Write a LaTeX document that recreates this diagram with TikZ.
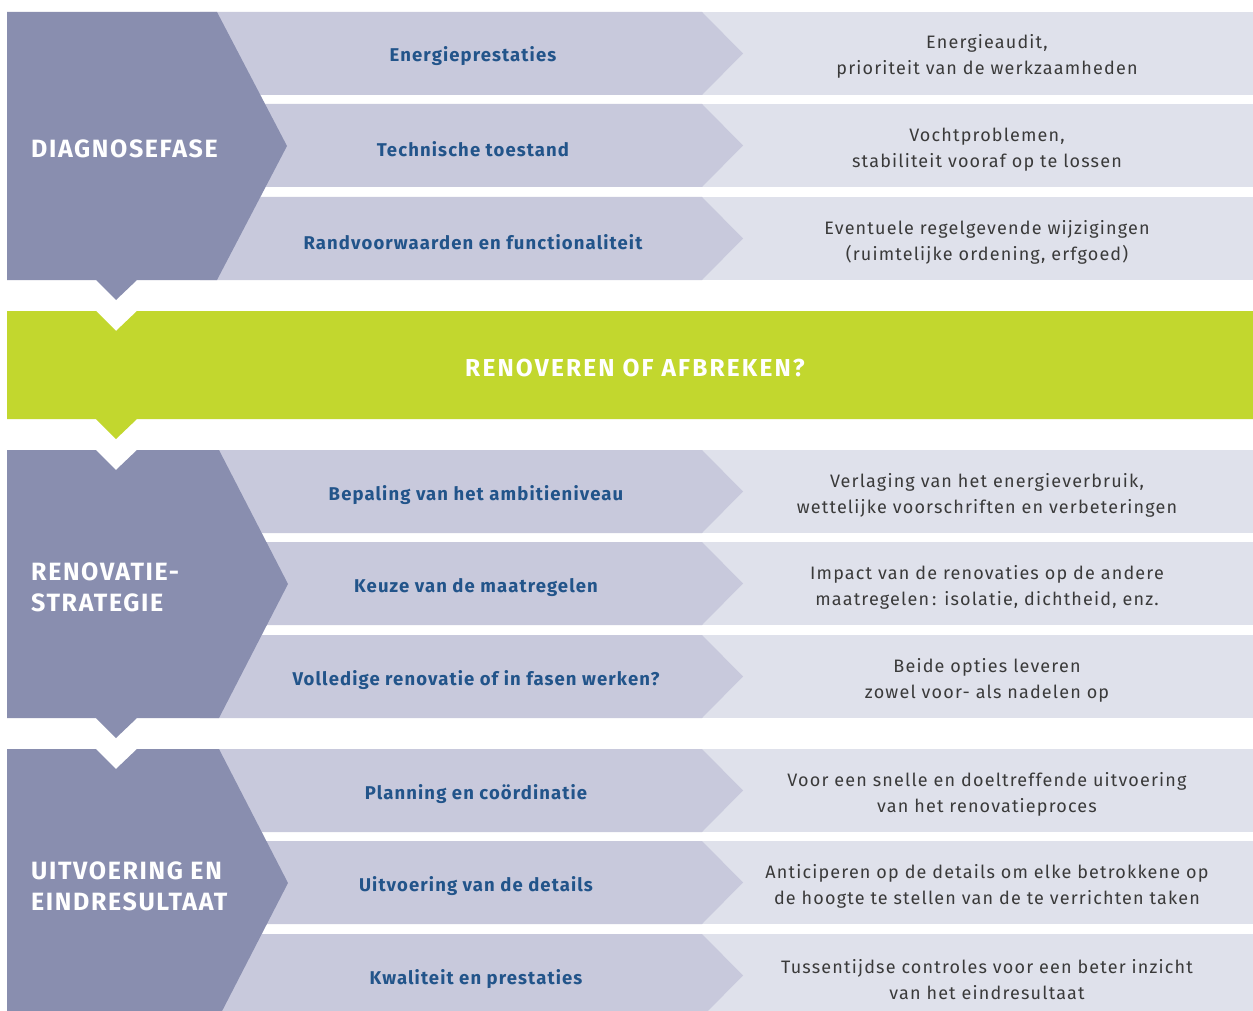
\documentclass[tikz,border=0pt]{standalone}
\usepackage{fontspec}
\setmainfont{Fira Sans}
\usetikzlibrary{positioning}

\definecolor{phasecol}{HTML}{898EAF}
\definecolor{stepcol}{HTML}{C8C9DC}
\definecolor{notecol}{HTML}{DFE1EB}
\definecolor{greencol}{HTML}{C2D72E}
\definecolor{bluetext}{HTML}{22548A}
\definecolor{graytext}{HTML}{3A3A3A}

\tikzstyle{phase} = [text=white,
  font=\fontsize{25}{31}\selectfont\bfseries\addfontfeatures{LetterSpace=6.5},
  anchor=west, align=left, inner sep=0pt, yshift=-1pt]
\tikzstyle{stepname} = [text=bluetext,
  font=\fontsize{18.5}{24}\selectfont\bfseries\addfontfeatures{LetterSpace=6},
  inner sep=0pt, yshift=-1.5pt]
\tikzstyle{stepnote} = [text=graytext,
  font=\fontsize{18}{26}\selectfont\addfontfeatures{LetterSpace=6.5},
  align=center, inner sep=0pt, yshift=-1.5pt]
\tikzstyle{question} = [text=white,
  font=\fontsize{24.5}{28}\selectfont\bfseries\addfontfeatures{LetterSpace=8.8},
  inner sep=0pt, yshift=-1pt]

\begin{document}
\begin{tikzpicture}[x=1pt,y=-1pt]
        \useasboundingbox (0,0) rectangle (1253,1011);
        \fill[white] (0,0) rectangle (1253,1011);

        % rows: light part and chevron part
        \foreach \t in {12,104,197,450,542,635,749,841,934} {
          \fill[notecol] (702,\t) rectangle (1253,\t+83);
          \fill[stepcol] (200,\t) -- (702,\t) -- (743,\t+41.5) -- (702,\t+83)
            -- (200,\t+83) -- cycle;
        }

        % phase panels
        \fill[phasecol] (7,12) -- (217,12) -- (287,146) -- (217,280) -- (137,280)
          -- (116,300) -- (96,280) -- (7,280) -- cycle;
        \fill[phasecol] (7,450) -- (96,450) -- (116,470) -- (137,450) -- (219,450)
          -- (288,584) -- (219,718) -- (137,718) -- (116,738) -- (96,718)
          -- (7,718) -- cycle;
        \fill[phasecol] (7,749) -- (96,749) -- (116,769) -- (137,749) -- (219,749)
          -- (288,883) -- (219,1017) -- (7,1017) -- cycle;

        % decision band
        \fill[greencol] (7,311) -- (96,311) -- (116,331) -- (137,311) -- (1253,311)
          -- (1253,419) -- (137,419) -- (116,439) -- (96,419) -- (7,419) -- cycle;

        \node [phase] (diagnose) at (31,148) {DIAGNOSEFASE};
        \node [phase] (strategie) at (31,586) {RENOVATIE-\\STRATEGIE};
        \node [phase] (uitvoering) at (31,885) {UITVOERING EN\\EINDRESULTAAT};
        \node [question] (keuze) at (635,367) {RENOVEREN OF AFBREKEN?};

        \node [stepname] (energie)  at (473,55)  {Energieprestaties};
        \node [stepname] (techniek) at (473,148) {Technische toestand};
        \node [stepname] (rand)     at (473,241) {Randvoorwaarden en functionaliteit};
        \node [stepname] (ambitie)  at (476,494) {Bepaling van het ambitieniveau};
        \node [stepname] (maatreg)  at (476,586) {Keuze van de maatregelen};
        \node [stepname] (fasen)    at (476,679) {Volledige renovatie of in fasen werken?};
        \node [stepname] (planning) at (476,793) {Planning en coördinatie};
        \node [stepname] (details)  at (476,885) {Uitvoering van de details};
        \node [stepname] (kwalit)   at (476,978) {Kwaliteit en prestaties};

        \node [stepnote] (audit)    at (987,55)  {Energieaudit,\\prioriteit van de werkzaamheden};
        \node [stepnote] (vocht)    at (987,148) {Vochtproblemen,\\stabiliteit vooraf op te lossen};
        \node [stepnote] (regels)   at (987,241) {Eventuele regelgevende wijzigingen\\(ruimtelijke ordening, erfgoed)};
        \node [stepnote] (verbruik) at (987,494) {Verlaging van het energieverbruik,\\wettelijke voorschriften en verbeteringen};
        \node [stepnote] (impact)   at (987,586) {Impact van de renovaties op de andere\\maatregelen\,: isolatie, dichtheid, enz.};
        \node [stepnote] (opties)   at (987,679) {Beide opties leveren\\zowel voor- als nadelen op};
        \node [stepnote] (snel)     at (987,793) {Voor een snelle en doeltreffende uitvoering\\van het renovatieproces};
        \node [stepnote] (antic)    at (987,885) {Anticiperen op de details om elke betrokkene op\\de hoogte te stellen van de te verrichten taken};
        \node [stepnote] (controle) at (987,978) {Tussentijdse controles voor een beter inzicht\\van het eindresultaat};
      \end{tikzpicture}
\end{document}
